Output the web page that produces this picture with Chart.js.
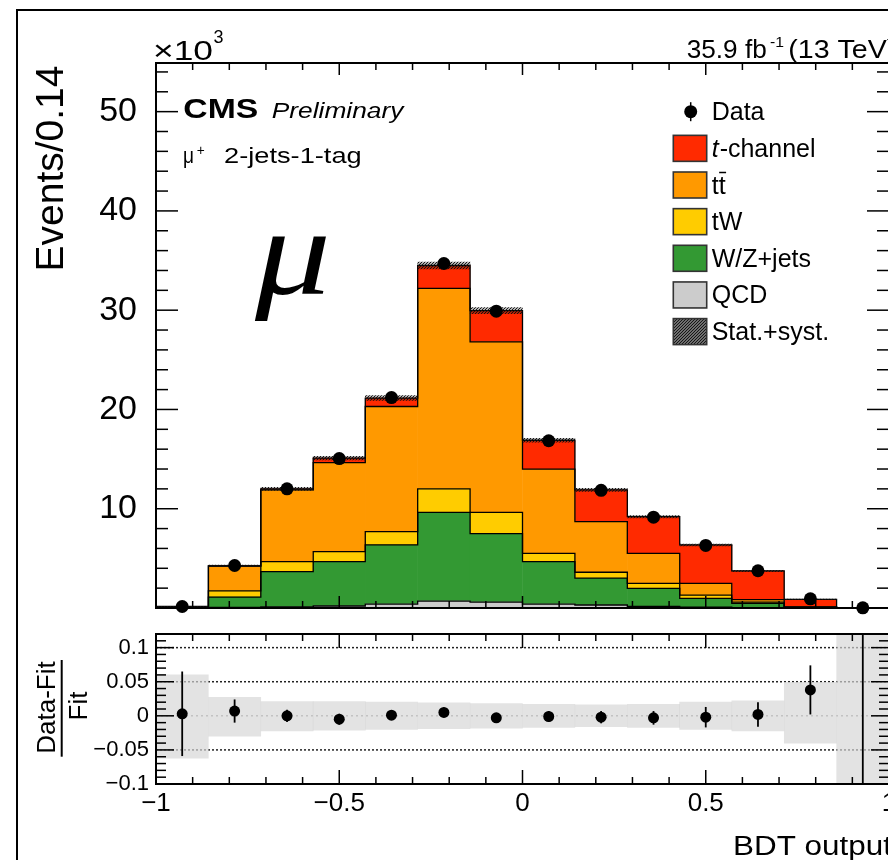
<!DOCTYPE html>
<html><head><meta charset="utf-8">
<script src="https://cdn.jsdelivr.net/npm/chart.js@4.4.1/dist/chart.umd.min.js"></script>
<style>
html,body{margin:0;padding:0;background:#fff;overflow:hidden;width:888px;height:860px;}
#frame{position:absolute;left:16px;top:9px;width:920px;height:900px;border:2px solid #000;box-sizing:border-box;}
#main{position:absolute;left:0;top:0;}
#ratio{position:absolute;left:0;top:620px;}
</style></head><body>
<div id="frame"></div>
<canvas id="main" width="910" height="620"></canvas>
<canvas id="ratio" width="910" height="240"></canvas>
<script>
// ---------------- data (thousands of events per bin) ----------------
const binEdges = [-1, -0.857, -0.714, -0.571, -0.429, -0.286, -0.143, 0, 0.143, 0.286, 0.429, 0.571, 0.714, 0.857, 1];
const qcd      = [0.02, 0.05, 0.10, 0.20, 0.40, 0.70, 0.60, 0.40, 0.30, 0.15, 0.08, 0.03, 0.01, 0.00];
const wzjets   = [0.03, 1.05, 3.56, 4.47, 5.95, 8.94, 6.90, 4.27, 2.70, 1.83, 0.89, 0.44, 0.04, 0.005];
const tw       = [0.02, 0.62, 1.01, 1.01, 1.35, 2.36, 2.14, 0.83, 0.60, 0.51, 0.33, 0.13, 0.03, 0.00];
const ttbar    = [0.05, 2.51, 7.23, 8.97, 12.60, 20.20, 17.16, 8.48, 5.10, 3.01, 1.19, 0.25, 0.04, 0.005];
const tchannel = [0.03, 0.02, 0.10, 0.44, 0.85, 2.30, 3.15, 2.92, 3.20, 3.70, 3.86, 2.88, 0.75, 0.01];
const dataVals = [0.15, 4.28, 12.0, 15.05, 21.2, 34.7, 29.9, 16.85, 11.85, 9.15, 6.3, 3.75, 0.92, 0.02];
const statSyst = [0.01, 0.08, 0.15, 0.18, 0.25, 0.35, 0.30, 0.20, 0.15, 0.12, 0.10, 0.06, 0.03, 0.00];
// ratio panel
const ratioVals = [0.003, 0.007, 0.000, -0.005, 0.001, 0.005, -0.003, -0.001, -0.002, -0.003, -0.002, 0.002, 0.038, 0.5];
const ratioErr  = [0.062, 0.017, 0.009, 0.008, 0.007, 0.007, 0.007, 0.008, 0.009, 0.010, 0.015, 0.018, 0.036, 1.0];
const bandUp    = [0.060, 0.027, 0.021, 0.021, 0.020, 0.019, 0.018, 0.017, 0.016, 0.017, 0.020, 0.022, 0.049, 1.0];
const bandDown  = [0.062, 0.030, 0.022, 0.021, 0.020, 0.019, 0.018, 0.017, 0.016, 0.017, 0.020, 0.022, 0.040, 1.0];
// ticks
const xMajorTicks = [-1, -0.5, 0, 0.5, 1];
const xTickLabels = ['\u22121', '\u22120.5', '0', '0.5', '1'];
const yMainTicks = [10, 20, 30, 40, 50];
const yMainLabels = ['10', '20', '30', '40', '50'];
const yRatioTicks = [-0.1, -0.05, 0, 0.05, 0.1];
const yRatioLabels = ['\u22120.1', '\u22120.05', '0', '0.05', '0.1'];
// legend
const legendLabels = ['Data', 't-channel', 'tt', 'tW', 'W/Z+jets', 'QCD', 'Stat.+syst.'];

// ---------------- styles ----------------
const COL = { qcd:'#cccccc', wz:'#339933', tw:'#ffcc00', tt:'#ff9900', tch:'#ff2a00' };
const FONT = '"Liberation Sans", Arial, Helvetica, sans-serif';
const SERIF = '"Liberation Serif", "Times New Roman", serif';

const centers = binEdges.slice(0, -1).map((e, i) => (e + binEdges[i + 1]) / 2);

function makeHatch(ctx, bg) {
  const c = document.createElement('canvas'); c.width = 3; c.height = 3;
  const g = c.getContext('2d');
  if (bg) { g.fillStyle = bg; g.fillRect(0, 0, 3, 3); }
  g.strokeStyle = '#111'; g.lineWidth = 1.2;
  g.beginPath();
  g.moveTo(0, 3); g.lineTo(3, 0);
  g.moveTo(-1, 1); g.lineTo(1, -1);
  g.moveTo(2, 4); g.lineTo(4, 2);
  g.stroke();
  return ctx.createPattern(c, 'repeat');
}

function txt(ctx, s, x, y, font, w) {
  ctx.save();
  ctx.font = font; ctx.fillStyle = '#000'; ctx.textAlign = 'left'; ctx.textBaseline = 'alphabetic';
  const m = ctx.measureText(s).width;
  const sx = w ? w / m : 1;
  ctx.translate(x, y); ctx.scale(sx, 1); ctx.fillText(s, 0, 0);
  ctx.restore();
  return m * sx;
}
function rtxt(ctx, s, bx, cy, font) {
  ctx.save();
  ctx.font = font; ctx.fillStyle = '#000'; ctx.textAlign = 'center'; ctx.textBaseline = 'alphabetic';
  ctx.translate(bx, cy); ctx.rotate(-Math.PI / 2); ctx.fillText(s, 0, 0);
  ctx.restore();
}
function seg(ctx, x1, y1, x2, y2) { ctx.beginPath(); ctx.moveTo(x1, y1); ctx.lineTo(x2, y2); ctx.stroke(); }
function fixY(s) { s.width = 156; s.paddingTop = 0; s.paddingBottom = 0; }

// ---------------- main panel ----------------
const mctx = document.getElementById('main').getContext('2d');
const hatch = makeHatch(mctx, null);
const hatchLegend = makeHatch(mctx, '#9a9a9a');

const procs = [
  { vals: qcd, color: COL.qcd },
  { vals: wzjets, color: COL.wz },
  { vals: tw, color: COL.tw },
  { vals: ttbar, color: COL.tt },
  { vals: tchannel, color: COL.tch },
];
let cum = centers.map(() => 0);
const mainSets = [];
procs.forEach(p => {
  const lo = cum.slice();
  cum = cum.map((c, i) => c + p.vals[i]);
  const hi = cum.slice();
  mainSets.push({
    type: 'bar', order: 5, grouped: false, barPercentage: 1, categoryPercentage: 1, borderWidth: 0,
    backgroundColor: p.color,
    data: centers.map((c, i) => ({ x: c, y: [lo[i], hi[i]] }))
  });
  mainSets.push({
    type: 'line', order: 3, stepped: 'before', borderColor: '#000', borderWidth: 1.3,
    pointRadius: 0, fill: false,
    data: binEdges.map((e, i) => ({ x: e, y: hi[Math.min(i, hi.length - 1)] }))
  });
});
const total = cum.slice();
mainSets.push({
  type: 'bar', order: 2, grouped: false, barPercentage: 1, categoryPercentage: 1, borderWidth: 0,
  backgroundColor: hatch,
  data: centers.map((c, i) => ({ x: c, y: [total[i] - statSyst[i], total[i] + statSyst[i]] }))
});
mainSets.push({
  type: 'line', order: 1, showLine: false, clip: false,
  pointRadius: 6.5, pointBackgroundColor: '#000', pointBorderWidth: 0, pointHoverRadius: 6.5,
  data: centers.map((c, i) => ({ x: c, y: dataVals[i] }))
});

const mainDeco = {
  id: 'mainDeco',
  afterDraw(chart) {
    const { ctx, chartArea: a, scales: { x, y } } = chart;
    ctx.save();
    ctx.strokeStyle = '#000';
    ctx.lineWidth = 1.5;
    for (let k = 0; k <= 27; k++) {
      const py = y.getPixelForValue(k * 2);
      const L = (k % 5 === 0) ? 22 : 12;
      seg(ctx, a.left, py, a.left + L, py);
      seg(ctx, a.right, py, a.right - L, py);
    }
    for (let k = 0; k <= 20; k++) {
      const px = x.getPixelForValue(-1 + k * 0.1);
      const L = (k % 5 === 0) ? 12 : 7;
      seg(ctx, px, a.top, px, a.top + L);
      seg(ctx, px, a.bottom, px, a.bottom - L);
    }
    ctx.lineWidth = 2;
    ctx.strokeRect(a.left, a.top, a.right - a.left, a.bottom - a.top);

    // axis title
    rtxt(ctx, 'Events/0.14', 63, 168.5, '39px ' + FONT);
    // x10^3
    txt(ctx, '\u00d710', 153, 60, '28px ' + FONT, 60);
    txt(ctx, '3', 213.5, 43, '18px ' + FONT, 10);
    // lumi
    txt(ctx, '35.9 fb', 686.7, 58.3, '25px ' + FONT, 80);
    txt(ctx, '-1', 770, 47, '15px ' + FONT, 14);
    txt(ctx, '(13 TeV)', 788.3, 58.3, '25px ' + FONT, 108);
    // CMS Preliminary
    txt(ctx, 'CMS', 183.3, 118.3, 'bold 28px ' + FONT, 75);
    txt(ctx, 'Preliminary', 271.7, 118.3, 'italic 22px ' + FONT, 131.7);
    txt(ctx, '\u03bc', 183, 163.3, '22px ' + FONT, 11);
    txt(ctx, '+', 196.7, 155, '14px ' + FONT, 8);
    txt(ctx, '2-jets-1-tag', 224, 163.3, '22px ' + FONT, 137.7);
    // big mu
    txt(ctx, '\u03bc', 255, 294, 'italic 125px ' + SERIF, 76);

    // legend
    const lx = 673.3, bw = 33.4, bh = 26, tx = 711.7, y0 = 111.7, dy = 36.65;
    const fills = [null, COL.tch, COL.tt, COL.tw, COL.wz, COL.qcd, hatchLegend];
    const lf = '25px ' + FONT;
    legendLabels.forEach((lab, i) => {
      const cy = y0 + i * dy;
      if (i === 0) {
        ctx.fillStyle = '#000';
        ctx.beginPath(); ctx.arc(690.7, cy, 6.5, 0, Math.PI * 2); ctx.fill();
        ctx.lineWidth = 1.5; seg(ctx, 690.7, cy - 9.5, 690.7, cy + 9.5);
      } else {
        ctx.fillStyle = fills[i];
        ctx.fillRect(lx, cy - bh / 2, bw, bh);
        ctx.lineWidth = 1.6; ctx.strokeStyle = '#333';
        ctx.strokeRect(lx, cy - bh / 2, bw, bh);
        ctx.strokeStyle = '#000';
      }
      const base = cy + 8.5;
      if (lab === 't-channel') {
        const w1 = txt(ctx, 't', tx, base, 'italic ' + lf);
        txt(ctx, '-channel', tx + w1 + 1, base, lf);
      } else if (lab === 'tt') {
        const w1 = txt(ctx, 't', tx, base, lf);
        const w2 = txt(ctx, 't', tx + w1, base, lf);
        ctx.lineWidth = 1.5; seg(ctx, tx + w1 + 0.5, base - 21, tx + w1 + w2 + 0.5, base - 21);
      } else {
        txt(ctx, lab, tx, base, lf);
      }
    });
    ctx.restore();
  }
};

new Chart(mctx, {
  type: 'bar',
  data: { datasets: mainSets },
  options: {
    responsive: false, animation: false, events: [],
    layout: { padding: { left: 0, right: 21, top: 63, bottom: 12 } },
    plugins: { legend: { display: false }, tooltip: { enabled: false } },
    scales: {
      x: {
        type: 'linear', min: -1, max: 1, offset: false, display: false,
        afterBuildTicks: s => { s.ticks = xMajorTicks.map(v => ({ value: v })); }
      },
      y: {
        type: 'linear', min: 0, max: 54.9,
        grid: { display: false, drawTicks: false }, border: { display: false },
        afterBuildTicks: s => { s.ticks = yMainTicks.map(v => ({ value: v })); },
        afterFit: fixY,
        ticks: { color: '#000', padding: 19, font: { family: FONT, size: 34 },
                 callback: (v, i) => yMainLabels[i] }
      }
    }
  },
  plugins: [mainDeco]
});

// ---------------- ratio panel ----------------
const rctx = document.getElementById('ratio').getContext('2d');
const ratioDeco = {
  id: 'ratioDeco',
  beforeDatasetsDraw(chart) {
    const { ctx, chartArea: a, scales: { y } } = chart;
    ctx.save();
    ctx.lineWidth = 1.5;
    [0.1, 0.05, -0.05].forEach(v => {
      const py = y.getPixelForValue(v);
      ctx.strokeStyle = '#222'; ctx.setLineDash([2, 2]);
      seg(ctx, a.left, py, a.right, py);
    });
    const p0 = y.getPixelForValue(0);
    ctx.strokeStyle = '#9a9a9a'; ctx.setLineDash([2, 3]);
    seg(ctx, a.left, p0, a.right, p0);
    ctx.restore();
  },
  afterDatasetDraw(chart, args) {
    if (args.index !== 0) return;
    const { ctx, chartArea: a, scales: { x, y } } = chart;
    ctx.save();
    ctx.beginPath(); ctx.rect(a.left, a.top, a.right - a.left, a.bottom - a.top); ctx.clip();
    ctx.strokeStyle = '#000'; ctx.lineWidth = 1.8;
    centers.forEach((c, i) => {
      const px = x.getPixelForValue(c);
      seg(ctx, px, y.getPixelForValue(ratioVals[i] + ratioErr[i]), px, y.getPixelForValue(ratioVals[i] - ratioErr[i]));
    });
    ctx.restore();
  },
  afterDraw(chart) {
    const { ctx, chartArea: a, scales: { x, y } } = chart;
    ctx.save();
    ctx.strokeStyle = '#000'; ctx.lineWidth = 1.5;
    for (let k = -10; k <= 12; k++) {
      const py = y.getPixelForValue(k * 0.01);
      const L = (k % 5 === 0) ? 18 : 10;
      seg(ctx, a.left, py, a.left + L, py);
      seg(ctx, a.right, py, a.right - L, py);
    }
    for (let k = 0; k <= 20; k++) {
      const px = x.getPixelForValue(-1 + k * 0.1);
      const L = (k % 5 === 0) ? 14 : 7;
      seg(ctx, px, a.top, px, a.top + L);
      seg(ctx, px, a.bottom, px, a.bottom - L);
    }
    ctx.lineWidth = 2;
    ctx.strokeRect(a.left, a.top, a.right - a.left, a.bottom - a.top);
    // y title as fraction
    rtxt(ctx, 'Data-Fit', 55, 87.5, '26px ' + FONT);
    ctx.lineWidth = 2; seg(ctx, 61.7, 40, 61.7, 136.7);
    rtxt(ctx, 'Fit', 87, 86, '26px ' + FONT);
    // x title
    txt(ctx, 'BDT output', 733, 235, '27px ' + FONT, 159);
    ctx.restore();
  }
};

new Chart(rctx, {
  type: 'bar',
  data: {
    datasets: [
      {
        type: 'bar', order: 2, grouped: false, barPercentage: 1, categoryPercentage: 1, borderWidth: 0,
        backgroundColor: 'rgba(214,214,214,0.68)',
        data: centers.map((c, i) => ({ x: c, y: [-bandDown[i], bandUp[i]] }))
      },
      {
        type: 'line', order: 1, showLine: false, clip: 6,
        pointRadius: 5.5, pointBackgroundColor: '#000', pointBorderWidth: 0, pointHoverRadius: 5.5,
        data: centers.map((c, i) => ({ x: c, y: ratioVals[i] }))
      }
    ]
  },
  options: {
    responsive: false, animation: false, events: [],
    layout: { padding: { left: 0, right: 21, top: 14, bottom: 0 } },
    plugins: { legend: { display: false }, tooltip: { enabled: false } },
    scales: {
      x: {
        type: 'linear', min: -1, max: 1, offset: false,
        grid: { display: false, drawTicks: false }, border: { display: false },
        afterBuildTicks: s => { s.ticks = xMajorTicks.map(v => ({ value: v })); },
        afterFit: s => { s.height = 76; s.paddingLeft = 0; s.paddingRight = 0; },
        ticks: { color: '#000', padding: 4, autoSkip: false, maxRotation: 0,
                 font: { family: FONT, size: 26 }, callback: (v, i) => xTickLabels[i] }
      },
      y: {
        type: 'linear', min: -0.1, max: 0.12,
        grid: { display: false, drawTicks: false }, border: { display: false },
        afterBuildTicks: s => { s.ticks = yRatioTicks.map(v => ({ value: v })); },
        afterFit: fixY,
        ticks: { color: '#000', padding: 7, font: { family: FONT, size: 22 },
                 callback: (v, i) => yRatioLabels[i] }
      }
    }
  },
  plugins: [ratioDeco]
});
</script>
</body></html>
